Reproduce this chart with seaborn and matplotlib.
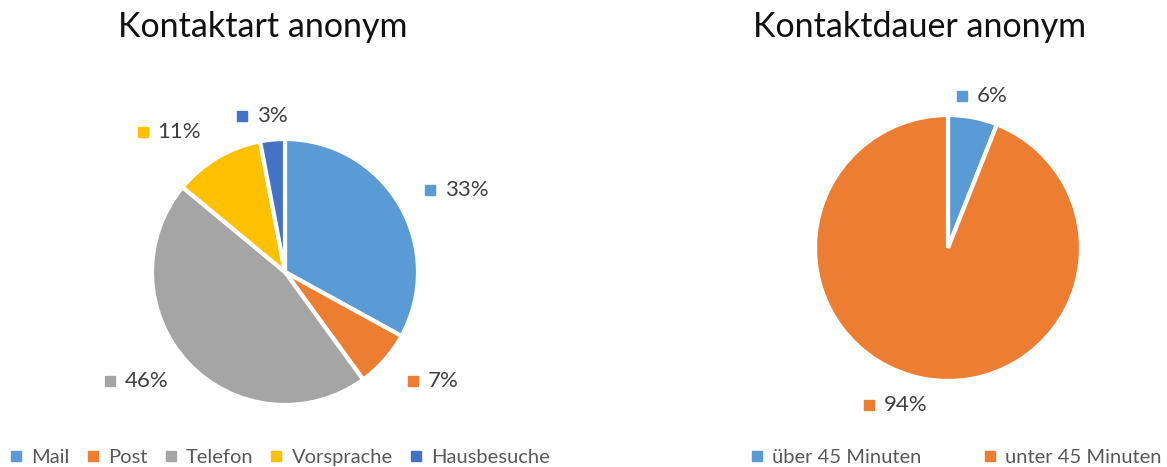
import numpy as np
import matplotlib
matplotlib.use("Agg")
import matplotlib.pyplot as plt
from matplotlib.lines import Line2D
import seaborn as sns

# data
art_labels = ["Mail", "Post", "Telefon", "Vorsprache", "Hausbesuche"]
art_values = [33, 7, 46, 11, 3]
dauer_labels = ["über 45 Minuten", "unter 45 Minuten"]
dauer_values = [6, 94]

art_colors = ["#5B9BD5", "#ED7D31", "#A5A5A5", "#FFC000", "#4472C4"]
dauer_colors = ["#5B9BD5", "#ED7D31"]

sns.set_theme(style="white")
plt.rcParams['font.family'] = ['Lato', 'DejaVu Sans']

W, H = 1167, 467
fig = plt.figure(figsize=(W / 100, H / 100), dpi=100)
fig.patch.set_facecolor("white")

R = 133  # pie radius in px
HALF = 180


def pie_axes(cx, cy):
    ax = fig.add_axes([(cx - HALF) / W, (H - cy - HALF) / H, 2 * HALF / W, 2 * HALF / H])
    return ax


def draw_pie(ax, values, colors, label_pos):
    wedges, _ = ax.pie(values, colors=colors, startangle=90, counterclock=False,
                       radius=1, wedgeprops=dict(edgecolor="white", linewidth=3))
    lim = HALF / R
    ax.set_xlim(-lim, lim)
    ax.set_ylim(-lim, lim)
    ax.set_axis_off()
    # label = small colour square + percent text, placed around the slice middle
    for w, v, (dist, nudge) in zip(wedges, values, label_pos):
        mid = np.deg2rad((w.theta1 + w.theta2) / 2 + nudge)
        x, y = dist * np.cos(mid), dist * np.sin(mid)
        ax.plot([x - 0.12], [y], marker="s", markersize=7, color=w.get_facecolor(),
                linestyle="none", clip_on=False)
        ax.text(x - 0.01, y, f"{v}%", ha="left", va="center", fontsize=16,
                color="#404040", clip_on=False)
    return wedges


ax1 = pie_axes(285, 272)
w1 = draw_pie(ax1, art_values, art_colors,
              [(1.358, -3.6), (1.358, 4.2), (1.45, -8.8), (1.417, 11.4), (1.19, 4.4)])

ax2 = pie_axes(948, 248)
w2 = draw_pie(ax2, dauer_values, dauer_colors, [(1.165, -0.3), (1.272, -11.1)])

fig.text(263 / W, 1 - 27 / H, "Kontaktart anonym", ha="center", va="center",
         fontsize=24.5, color="#111111")
fig.text(920 / W, 1 - 27 / H, "Kontaktdauer anonym", ha="center", va="center",
         fontsize=24.5, color="#111111")


def proxies(colors):
    return [Line2D([0], [0], marker="s", markersize=7, color=c, linestyle="none")
            for c in colors]


leg1 = fig.legend(proxies(art_colors), art_labels, loc="center",
                  bbox_to_anchor=(279 / W, 1 - 457 / H), ncol=5, frameon=False,
                  fontsize=14.5, handletextpad=0.35, columnspacing=0.75, handlelength=0.8)
for t in leg1.get_texts():
    t.set_color("#595959")
leg2 = fig.legend(proxies(dauer_colors), dauer_labels, loc="center",
                  bbox_to_anchor=(955 / W, 1 - 457 / H), ncol=2, frameon=False,
                  fontsize=14.5, handletextpad=0.35, columnspacing=3.0, handlelength=0.8)
for t in leg2.get_texts():
    t.set_color("#595959")

fig.savefig("out.png", dpi=100, facecolor="white")
